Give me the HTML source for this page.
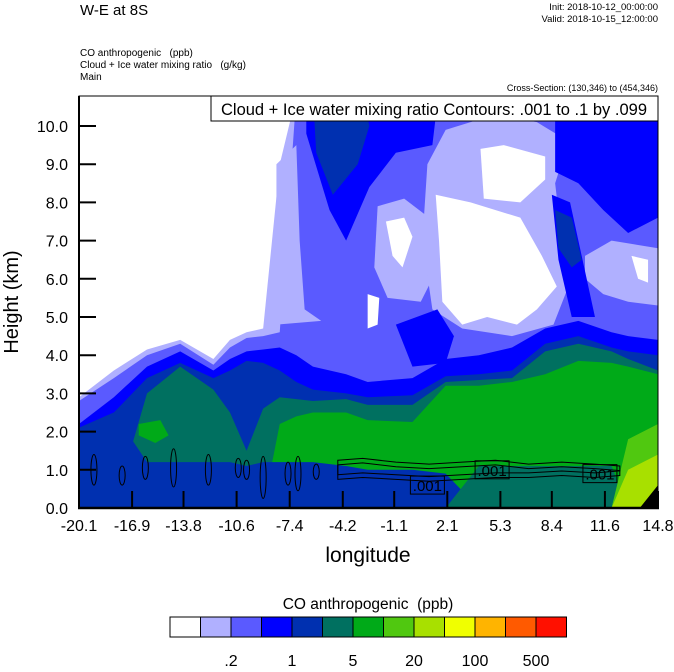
<!DOCTYPE html>
<html><head><meta charset="utf-8"><style>
body{margin:0;background:#fff;}
svg text{font-family:"Liberation Sans",sans-serif;white-space:pre;}
</style></head><body>
<svg id="chart" width="674" height="667" viewBox="0 0 674 667" xmlns="http://www.w3.org/2000/svg">
<defs><clipPath id="pc"><rect x="79" y="96" width="579" height="412"/></clipPath></defs>
<text x="80" y="15" font-size="15">W-E at 8S</text>
<text x="658" y="10" font-size="9.5" text-anchor="end">Init: 2018-10-12_00:00:00</text>
<text x="658" y="22" font-size="9.5" text-anchor="end">Valid: 2018-10-15_12:00:00</text>
<text x="80" y="56" font-size="10">CO anthropogenic   (ppb)</text>
<text x="80" y="68" font-size="10">Cloud + Ice water mixing ratio   (g/kg)</text>
<text x="80" y="80" font-size="10">Main</text>
<text x="658" y="91" font-size="9" text-anchor="end">Cross-Section: (130,346) to (454,346)</text>
<g id="plot" clip-path="url(#pc)"></g>
<g id="axes"></g>
<rect x="211" y="96" width="447" height="25" fill="#fff" stroke="#000" stroke-width="1"/>
<text x="434" y="115" font-size="16.5" text-anchor="middle">Cloud + Ice water mixing ratio Contours: .001 to .1 by .099</text>
<text transform="translate(18,302) rotate(-90)" font-size="20" text-anchor="middle">Height (km)</text>
<text x="368" y="562" font-size="21" text-anchor="middle">longitude</text>
<text x="368" y="609" font-size="15.5" text-anchor="middle">CO anthropogenic  (ppb)</text>
<g id="cbar"></g>
</svg>
<script>
const lon = [-20.1,-18,-16,-14,-12,-11,-10,-9,-8,-7,-6,-4,-2.7,0,2,4,6,8,10,12,13,14.8];
const t1 = [2.9,3.6,4.15,4.4,3.9,4.4,4.6,4.7,9.0,10.8,10.8,10.8,10.8,10.8,10.8,10.8,10.8,10.8,10.8,10.8,10.8,10.8];
const t2 = [2.8,3.4,4.0,4.3,3.75,4.2,4.45,4.5,4.6,10.8,10.8,10.8,10.8,10.8,10.8,10.8,10.8,10.8,10.8,10.8,10.8,10.8];
const t3 = [2.2,2.9,3.7,4.1,3.6,3.9,4.1,4.15,4.2,4.0,3.7,3.5,3.3,3.4,3.9,4.0,4.2,4.7,4.9,4.6,4.5,4.4];
const t4 = [2.1,2.5,3.4,3.8,3.4,3.6,3.85,3.8,3.6,3.3,3.1,3.0,2.9,2.95,3.45,3.5,3.6,4.3,4.5,4.2,4.1,4.0];
const t5 = [0,0,3.0,3.7,3.1,2.5,1.5,2.6,2.9,2.85,2.8,2.85,2.7,2.7,3.3,3.35,3.4,4.1,4.3,4.1,3.9,3.6];
const t6 = [0,0,0,0,0,0,0,0,2.2,2.4,2.5,2.5,2.3,2.25,3.2,3.2,3.3,3.5,3.85,3.8,3.7,3.5];
const t7 = [0,0,0,0,0,0,0,0,0,0,0,0,0,0,0,0,0,0,0,0,1.8,2.2];
const t8 = [0,0,0,0,0,0,0,0,0,0,0,0,0,0,0,0,0,0,0,0,1.0,1.4];
const botBlue = [2.1,2.5,1.2,1.2,1.2,1.2,1.1,1.2,1.2,1.2,1.2,1.1,1.0,1.0,0.9,0,0,0,0,0,0,0];
const botTeal = [0,0,0,0,0,0,0,0,0,0,0,0,0,0,0,1.1,1.1,1.1,1.1,1.1,0,0];
const blobLight = [
 [[-8.2,9.0],[-7.0,9.5],[-6.8,7],[-6.5,5.2],[-5.5,4.9],[-8.2,4.8]],
 [[-2.1,7.9],[-0.5,8.1],[1.0,7.6],[1.2,6.0],[0.5,5.4],[-1.5,5.5],[-2.3,6.3]],
 [[0.9,9.0],[2,9.9],[5,10.3],[7.5,10.1],[9.4,9.6],[8.6,8.5],[9.0,7.0],[9.4,5.8],[8.5,4.8],[6,4.5],[3,4.7],[1.2,5.2],[0.6,7.0]],
 [[10.4,6.6],[12,7.0],[14.8,6.8],[14.8,5.3],[13,5.4],[11.5,5.6],[10.4,6.0]]
];
const blobWhite = [
 [[1.4,8.2],[3.5,8.0],[6.5,7.6],[7.8,6.6],[8.7,5.8],[7.5,5.2],[6.3,4.8],[4.5,5.0],[3,4.8],[1.8,5.4],[1.6,7.0]],
 [[4.1,9.4],[5.5,9.5],[8.0,9.2],[8.0,8.6],[6.5,8.0],[4.3,8.1]],
 [[-1.6,7.5],[-0.5,7.6],[0,7.1],[-0.6,6.3],[-1.2,6.6]],
 [[13.2,6.6],[14.2,6.5],[14.2,5.9],[13.6,6.0]],
 [[-2.7,5.6],[-2.0,5.5],[-2.1,4.8],[-2.7,4.7]]
];
const blobBlue = [
 [[-6.4,10.8],[-2,10.8],[1.5,10.6],[1.2,9.5],[-1,9.3],[-2.6,8.4],[-4,7.0],[-5,7.8],[-6.4,9.8]],
 [[-2,10.8],[14.8,10.8],[14.8,9.6],[12,9.8],[10,10.0],[7,10.4],[4,10.5],[1,10.3]],
 [[8.6,10.2],[14.8,10.2],[14.8,7.6],[13,7.2],[11.5,7.8],[10,8.5],[8.6,8.8]],
 [[-1,4.8],[1.5,5.2],[2.5,4.5],[2,3.8],[0,3.7]],
 [[8.4,8.2],[9.5,8.0],[10.5,6.0],[11,5.0],[9.6,5.0],[8.8,6.5]]
];
const blobDark = [
 [[-6,10.8],[-3,10.8],[-2.6,10],[-3.3,9],[-4.8,8.2],[-5.8,9.3]],
 [[8.6,7.8],[9.6,7.6],[10.2,6.5],[9.6,6.3],[8.8,6.8]]
];
const blobGreen = [[[-16.5,2.2],[-15.2,2.3],[-14.7,1.9],[-15.5,1.7],[-16.5,1.9]]];
const blobBlack = [[[13.7,0],[14.8,0],[14.8,0.6]]];
const cLon = [-19.2,-17.5,-16.1,-14.4,-12.3,-10.5,-10.0,-9.0,-7.5,-6.9,-5.8];
const cH = [1.0,0.85,1.05,1.05,1.0,1.05,1.0,0.8,0.9,0.9,0.95];
const cRy = [0.4,0.25,0.3,0.5,0.4,0.25,0.25,0.55,0.3,0.45,0.2];
const loopLon = [-4.5,-3,-1,1,3,5,7,9,11,12.5];
const loopTop = [1.25,1.3,1.2,1.15,1.2,1.25,1.15,1.2,1.15,1.1];
const loopBot = [0.75,0.8,0.75,0.7,0.75,0.8,0.8,0.85,0.8,0.85];
const labLon = [0.9,4.8,11.3];
const labH = [0.6,1.0,0.9];
const yTicks = [0,1,2,3,4,5,6,7,8,9,10];
const yTickLabels = ["0.0","1.0","2.0","3.0","4.0","5.0","6.0","7.0","8.0","9.0","10.0"];
const xTicks = [-20.1,-16.9,-13.8,-10.6,-7.4,-4.2,-1.1,2.1,5.3,8.4,11.6,14.8];
const cbColors = ["#ffffff","#b0b0ff","#5a5aff","#0000ff","#0030b0","#007060","#00aa18","#50c810","#a8e000","#f0ff00","#ffb400","#ff5a00","#ff1000"];
const cbLabels = [".2","1","5","20","100","500"];
const cbLabelIdx = [2,4,6,8,10,12];

const NS="http://www.w3.org/2000/svg";
const X0=79,X1=658,Y0=508,PXKM=38.2,LMIN=-20.1,LMAX=14.8;
const sx=l=>X0+(l-LMIN)/(LMAX-LMIN)*(X1-X0);
const sy=h=>Y0-h*PXKM;
const plot=document.getElementById('plot'),axes=document.getElementById('axes'),cbar=document.getElementById('cbar');
function mk(tag,attrs,parent){const e=document.createElementNS(NS,tag);for(const k in attrs)e.setAttribute(k,attrs[k]);parent.appendChild(e);return e;}
function area(top,color,name){
  let d="M"+sx(lon[0])+","+sy(0);
  for(let i=0;i<lon.length;i++)d+=" L"+sx(lon[i])+","+sy(top[i]);
  d+=" L"+sx(lon[lon.length-1])+","+sy(0)+"Z";
  const p=mk('path',{d:d,fill:color},plot);
  
  
}
function blobs(list,color,name){
  list.forEach(b=>{
    const p=mk('polygon',{points:b.map(q=>sx(q[0])+","+sy(q[1])).join(" "),fill:color},plot);
    
    
  });
}
const bg=mk('rect',{x:79,y:96,width:579,height:412,fill:"#fff"},plot);


area(t1,cbColors[1],'band-light-blue');
area(t2,cbColors[2],'band-medium-blue');
blobs(blobLight,cbColors[1],'blob-light-blue');
blobs(blobWhite,cbColors[0],'blob-white');
blobs(blobBlue,cbColors[3],'blob-blue');
blobs(blobDark,cbColors[4],'blob-dark-blue');
area(t3,cbColors[3],'band-blue');
area(t4,cbColors[4],'band-dark-blue');
area(t5,cbColors[5],'band-teal');
area(t6,cbColors[6],'band-green');
blobs(blobGreen,cbColors[6],'blob-green');
area(botBlue,cbColors[4],'band-bottom-dark-blue');
area(botTeal,cbColors[5],'band-bottom-teal');
area(t7,cbColors[7],'band-light-green');
area(t8,cbColors[8],'band-yellow-green');
blobs(blobBlack,"#000",'missing-data-corner');
for(let i=0;i<cLon.length;i++){
  const e=mk('ellipse',{cx:sx(cLon[i]),cy:sy(cH[i]),rx:3,ry:cRy[i]*PXKM,fill:"none",stroke:"#000","stroke-width":1},plot);
  
  
}
for(let k=0;k<2;k++){
  const off=k*0.12;
  let d="M"+sx(loopLon[0])+","+sy(loopTop[0]-off);
  for(let i=1;i<loopLon.length;i++)d+=" L"+sx(loopLon[i])+","+sy(loopTop[i]-off);
  for(let i=loopLon.length-1;i>=0;i--)d+=" L"+sx(loopLon[i])+","+sy(loopBot[i]+off);
  d+="Z";
  const p=mk('path',{d:d,fill:"none",stroke:"#000","stroke-width":1},plot);
  
  
}
for(let i=0;i<labLon.length;i++){
  const r=mk('rect',{x:sx(labLon[i])-17,y:sy(labH[i])-9,width:34,height:18,fill:"none",stroke:"#000","stroke-width":1},plot);
  
  
  const t=mk('text',{x:sx(labLon[i]),y:sy(labH[i])+6,"font-size":15,"text-anchor":"middle"},plot);
  t.textContent=".001";
  
  
}
const fr=mk('rect',{x:79,y:96,width:579,height:412,fill:"none",stroke:"#000","stroke-width":1},axes);


const bl=mk('line',{x1:78,y1:508,x2:659,y2:508,stroke:"#000","stroke-width":2.5},axes);


const ll=mk('line',{x1:79,y1:96,x2:79,y2:509,stroke:"#000","stroke-width":2},axes);


yTicks.forEach((v,i)=>{
  const t=mk('line',{x1:79,y1:sy(v),x2:96,y2:sy(v),stroke:"#000","stroke-width":2},axes);
  
  
  const tx=mk('text',{x:68,y:sy(v)+6,"font-size":16,"text-anchor":"end"},axes);
  tx.textContent=yTickLabels[i];
  
  
});
xTicks.forEach(v=>{
  const t=mk('line',{x1:sx(v),y1:508,x2:sx(v),y2:491,stroke:"#000","stroke-width":2},axes);
  
  
  const tx=mk('text',{x:sx(v),y:531,"font-size":16,"text-anchor":"middle"},axes);
  tx.textContent=v.toFixed(1);
  
  
});
const CBX=170,CBW=30.5;
cbColors.forEach((c,i)=>{
  const r=mk('rect',{x:CBX+i*CBW,y:617,width:CBW,height:20,fill:c,stroke:"#000","stroke-width":1},cbar);
  
  
});
cbLabels.forEach((s,i)=>{
  const t=mk('text',{x:CBX+cbLabelIdx[i]*CBW,y:666,"font-size":16,"text-anchor":"middle"},cbar);
  t.textContent=s;
  
  
});
</script>
</body></html>
